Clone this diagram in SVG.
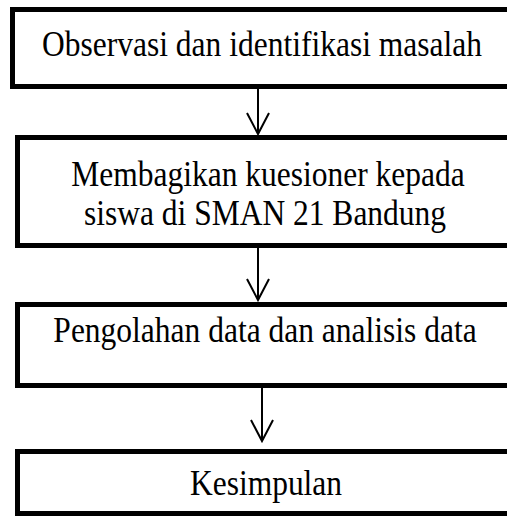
<svg xmlns="http://www.w3.org/2000/svg" width="507" height="516" viewBox="0 0 507 516">
<style>
.box{fill:#fff;stroke:#000;stroke-width:5}
.lbl{font-family:"Liberation Serif","Times New Roman",serif;font-size:31.5px;fill:#000;text-anchor:middle}
.conn{fill:none;stroke:#000;stroke-width:2}
</style>
<rect width="507" height="516" fill="#fff"/>
<g id="node1">
<rect class="box" x="12.5" y="9.5" width="505" height="77"/>
<text class="lbl" transform="translate(262 56) scale(1 1.15)">Observasi dan identifikasi masalah</text>
</g>
<g id="node2">
<rect class="box" x="17.5" y="137.5" width="500" height="108"/>
<text class="lbl" transform="translate(268 186) scale(1 1.15)">Membagikan kuesioner kepada</text>
<text class="lbl" transform="translate(265 225) scale(1 1.15)">siswa di SMAN 21 Bandung</text>
</g>
<g id="node3">
<rect class="box" x="17.5" y="304.5" width="500" height="81"/>
<text class="lbl" transform="translate(265 342) scale(1 1.15)">Pengolahan data dan analisis data</text>
</g>
<g id="node4">
<rect class="box" x="17.5" y="451.5" width="500" height="62"/>
<text class="lbl" transform="translate(266 495) scale(1 1.15)">Kesimpulan</text>
</g>
<g id="connectors">
<path class="conn" d="M258 84V134M247 113L258 134L269 113"/>
<path class="conn" d="M258 248V300M247 279L258 300L269 279"/>
<path class="conn" d="M262 388V441M251 420L262 441L273 420"/>
</g>
</svg>
